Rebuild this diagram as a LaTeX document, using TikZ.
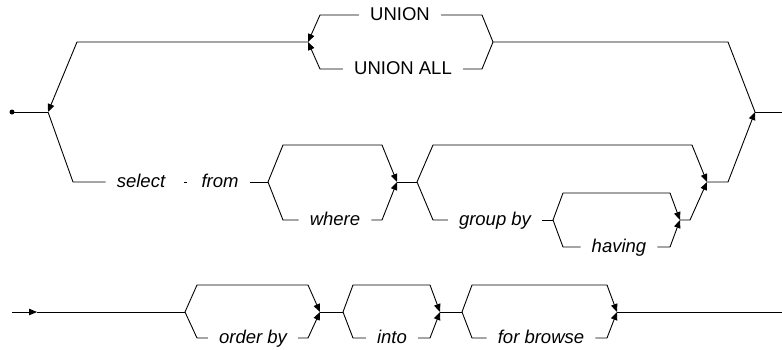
\documentclass[tikz,border=0pt]{standalone}
\usepackage{fontspec}
\setmainfont{Liberation Sans}
\usetikzlibrary{arrows.meta}

\tikzset{
  rail/.style={line width=0.9pt},
  merge/.style={rail,-{Triangle[length=8pt,width=6.5pt]}},
  kw/.style={font=\fontsize{18.5}{22}\selectfont\itshape,inner xsep=11pt,inner ysep=0pt,
    text height=11pt,text depth=0pt},
  token/.style={kw,font=\fontsize{18.5}{22}\selectfont},
}

\begin{document}
\begin{tikzpicture}[x=1pt,y=-1pt]
  \useasboundingbox (0,0) rectangle (782,349);

  \coordinate (start) at (12,112);
  \coordinate (jL) at (48,112);
  \coordinate (jR) at (755,112);
  \coordinate (stop) at (782,112);
  \coordinate (uA) at (308,42);
  \coordinate (uB) at (493,42);
  \coordinate (jG) at (417,182);
  \coordinate (jE) at (707,182);
  \coordinate (start2) at (12,312);
  \coordinate (tip2) at (37,312);
  \coordinate (stop2) at (782,312);

  % optional clauses
  \foreach \n/\xa/\xb/\y/\yt/\yb/\d/\xt/\txt in {
      where/268/397/182/145/220/15/335/where,
      having/553/680/220/193/247/10/619/having,
      orderby/185/320/312/285/338/12/253/order by,
      into/343/440/312/285/338/10/392/into,
      browse/462/617/312/285/338/10/541/for browse} {
    \coordinate (\n-in) at (\xa,\y);
    \coordinate (\n-out) at (\xb,\y);
    \node[kw] (\n) at (\xt,\yb) {\txt};
    \draw[merge] (\n-in) -- (\xa+\d,\yt) -- (\xb-\d,\yt) -- (\n-out);
    \draw[rail] (\n-in) -- (\xa+\d,\yb) -- (\n.west);
    \draw[merge] (\n.east) -- (\xb-\d,\yb) -- (\n-out);
  }

  \fill (start) circle (2.5);
  \draw[rail] (start) -- (jL);
  \draw[rail] (jR) -- (stop);

  % loop back
  \node[token] (union) at (400,15) {UNION};
  \node[token] (unionall) at (403,69) {UNION ALL};
  \draw[rail] (jR) -- (728,42) -- (uB);
  \draw[rail] (uB) -- (482,15) -- (union.east);
  \draw[rail] (uB) -- (482,69) -- (unionall.east);
  \draw[merge] (union.west) -- (320,15) -- (uA);
  \draw[merge] (unionall.west) -- (320,69) -- (uA);
  \draw[merge] (uA) -- (77,42) -- (jL);

  % select - from
  \node[kw] (select) at (141,182) {select};
  \node[kw] (from) at (220,182) {from};
  \draw[rail] (jL) -- (73,182) -- (select.west);
  \draw[rail,shorten <=8pt,shorten >=3pt] (select) -- (from);
  \draw[rail] (from.east) -- (where-in);

  % group by
  \node[kw] (groupby) at (495,220) {group by};
  \draw[rail] (where-out) -- (jG);
  \draw[merge] (jG) -- (433,145) -- (692,145) -- (jE);
  \draw[rail] (jG) -- (433,220) -- (groupby.west);
  \draw[rail] (groupby.east) -- (having-in);
  \draw[merge] (having-out) -- (690,220) -- (jE);
  \draw[merge] (jE) -- (728,182) -- (jR);

  % second row
  \draw[merge] (start2) -- (tip2);
  \draw[rail] (tip2) -- (orderby-in);
  \draw[rail] (orderby-out) -- (into-in);
  \draw[rail] (into-out) -- (browse-in);
  \draw[rail] (browse-out) -- (stop2);
\end{tikzpicture}
\end{document}
